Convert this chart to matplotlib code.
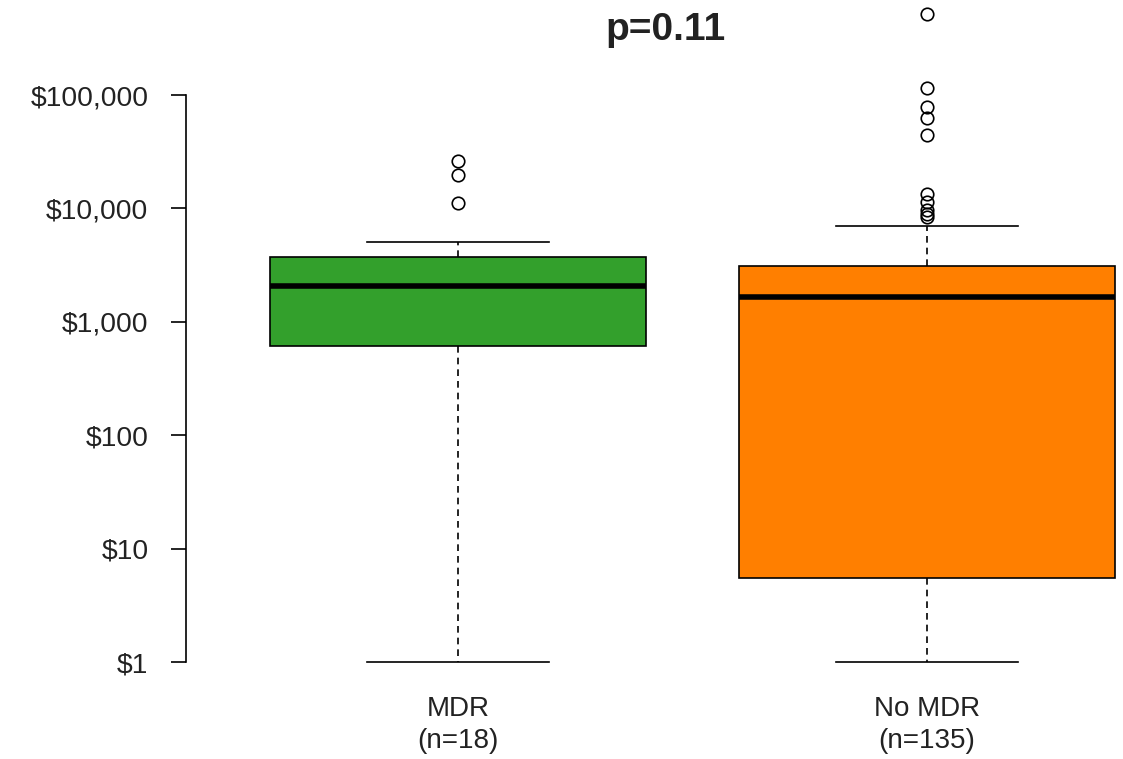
import matplotlib
matplotlib.use("Agg")
import matplotlib.pyplot as plt
import numpy as np

plt.rcParams['font.family'] = ['Liberation Sans', 'DejaVu Sans']

# summary statistics of cost per group (USD)
groups = ["MDR\n(n=18)", "No MDR\n(n=135)"]
box_colors = ["#33A02C", "#FF7F00"]
whisker_low = [1, 1]
q1 = [612, 5.5]
median = [2070, 1655]
q3 = [3725, 3105]
whisker_high = [5055, 7000]
outliers = [
    [11220, 19720, 26360],
    [8450, 8900, 9680, 11460, 13400, 44400, 62300, 78000, 114600, 518000],
]
y_ticks = [1, 10, 100, 1000, 10000, 100000]
y_tick_labels = ["$1", "$10", "$100", "$1,000", "$10,000", "$100,000"]

stats = []
for i in range(len(groups)):
    stats.append(dict(med=median[i], q1=q1[i], q3=q3[i],
                      whislo=whisker_low[i], whishi=whisker_high[i],
                      fliers=outliers[i], label=groups[i]))

text_col = "#222222"

fig = plt.figure(figsize=(11.23, 7.59), dpi=100)
ax = fig.add_axes([186 / 1123, 1 - 688 / 759, 1 - 186 / 1123, 688 / 759])

bp = ax.bxp(stats, positions=[1, 2], widths=0.8, patch_artist=True,
            showfliers=True,
            boxprops=dict(edgecolor="black", linewidth=1.2),
            medianprops=dict(color="black", linewidth=4),
            whiskerprops=dict(color="black", linewidth=1.2, linestyle=(0, (4, 3))),
            capprops=dict(color="black", linewidth=1.2),
            flierprops=dict(marker="o", markerfacecolor="none",
                            markeredgecolor="black", markersize=9,
                            markeredgewidth=1.2))
for patch, c in zip(bp["boxes"], box_colors):
    patch.set_facecolor(c)
# staple width is half the box width
for cap in bp["caps"]:
    x = cap.get_xdata()
    mid = (x[0] + x[1]) / 2
    cap.set_xdata([mid - 0.195, mid + 0.195])

ax.set_yscale("log")
ax.set_ylim(10 ** -0.2286, 10 ** (662 / 113.4))
ax.set_xlim(0.42, 1 + (1123 - 458) / 469)

ax.set_yticks(y_ticks)
ax.set_yticklabels(y_tick_labels, fontsize=20.3, color=text_col)
ax.yaxis.set_minor_locator(matplotlib.ticker.NullLocator())
ax.tick_params(axis="y", length=11, width=1.2, pad=16)
ax.tick_params(axis="x", length=0, labelsize=20, pad=6, labelcolor=text_col)
ax.set_xticks([1, 2])
ax.set_xticklabels(groups, linespacing=1.3)

for side in ["top", "right", "bottom"]:
    ax.spines[side].set_visible(False)
ax.spines["left"].set_linewidth(1.2)
ax.spines["left"].set_bounds(1, 100000)

fig.text(666 / 1123, 1 - 30 / 759, "p=0.11", fontsize=28, fontweight="bold",
         ha="center", va="center", color=text_col)

fig.savefig("out.png", dpi=100)
